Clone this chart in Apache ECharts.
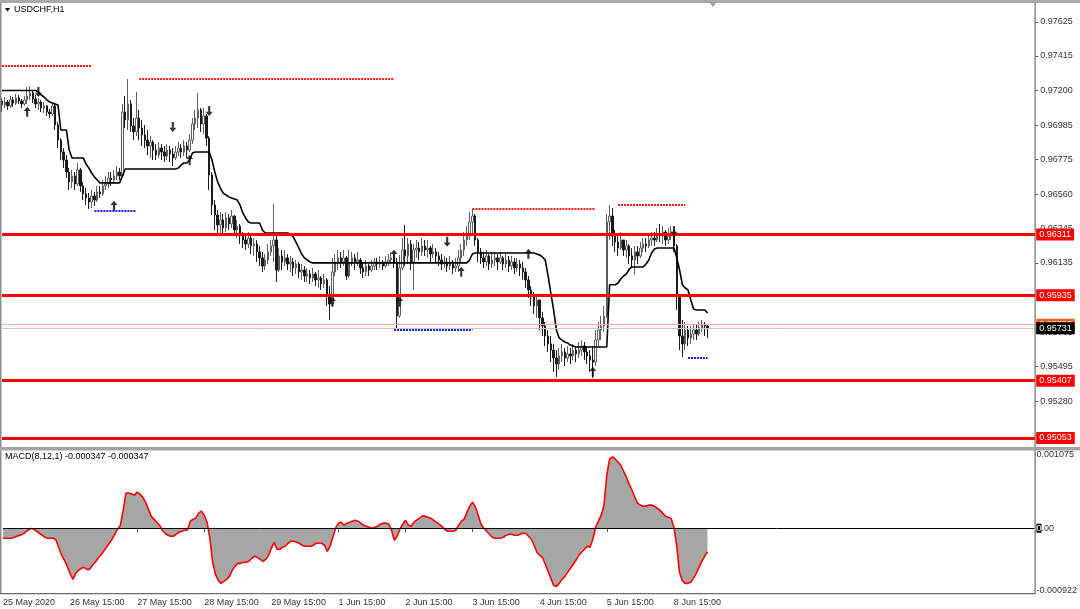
<!DOCTYPE html>
<html><head><meta charset="utf-8">
<script src="https://cdn.jsdelivr.net/npm/echarts@6/dist/echarts.min.js"></script>
<style>html,body{margin:0;padding:0;background:#fff}#c{width:1080px;height:609px}</style>
</head><body><div id="c"></div>
<script>
// ---- tick labels ----
const tickLabels = ['25 May 2020','26 May 15:00','27 May 15:00','28 May 15:00','29 May 15:00','1 Jun 15:00','2 Jun 15:00','3 Jun 15:00','4 Jun 15:00','5 Jun 15:00','8 Jun 15:00'];
const barsPerLabel = 24;
const slotCount = 370;
const priceTicks = [0.97625,0.97415,0.97200,0.96985,0.96775,0.96560,0.96345,0.96135,0.95705,0.95495,0.95280,0.95070];
const macdTicks = [0.001075, 0, -0.000922];

// ---- USDCHF H1 bars ----
const open = [
0.97136,0.97112,0.97130,0.97106,0.97143,0.97124,0.97155,0.97136,0.97118,0.97143,
0.97167,0.97186,0.97149,0.97118,0.97130,0.97093,0.97106,0.97068,0.97056,0.97106,
0.96988,0.96894,0.96821,0.96771,0.96697,0.96636,0.96673,0.96623,0.96710,0.96611,
0.96561,0.96537,0.96512,0.96549,0.96524,0.96574,0.96561,0.96611,0.96623,0.96660,
0.96648,0.96673,0.96697,0.96673,0.97068,0.97019,0.97118,0.96982,0.96945,0.97031,
0.96969,0.96926,0.96894,0.96858,0.96882,0.96833,0.96802,0.96845,0.96821,0.96796,
0.96833,0.96809,0.96784,0.96821,0.96845,0.96821,0.96858,0.96833,0.96894,0.96994,
0.97031,0.97081,0.96994,0.97044,0.96907,0.96679,0.96493,0.96431,0.96370,0.96401,
0.96351,0.96413,0.96376,0.96425,0.96339,0.96363,0.96302,0.96277,0.96252,0.96289,
0.96240,0.96252,0.96203,0.96166,0.96116,0.96153,0.96203,0.96240,0.96277,0.96091,
0.96178,0.96141,0.96166,0.96128,0.96141,0.96104,0.96128,0.96079,0.96091,0.96054,
0.96067,0.96042,0.96067,0.96030,0.96042,0.96005,0.96030,0.95931,0.95881,0.96079,
0.96141,0.96166,0.96141,0.96166,0.96054,0.96141,0.96166,0.96141,0.96153,0.96104,
0.96079,0.96116,0.96091,0.96116,0.96141,0.96128,0.96141,0.96116,0.96141,0.96153,
0.96166,0.96141,0.95807,0.96104,0.96215,0.96178,0.96252,0.96141,0.96215,0.96227,
0.96203,0.96240,0.96215,0.96227,0.96190,0.96203,0.96178,0.96153,0.96128,0.96141,
0.96116,0.96141,0.96104,0.96116,0.96166,0.96215,0.96277,0.96302,0.96388,0.96425,
0.96277,0.96203,0.96166,0.96141,0.96178,0.96128,0.96153,0.96166,0.96141,0.96166,
0.96128,0.96153,0.96116,0.96141,0.96104,0.96128,0.96104,0.96079,0.96030,0.95968,
0.95931,0.95869,0.95906,0.95795,0.95745,0.95683,0.95634,0.95596,0.95547,0.95510,
0.95560,0.95584,0.95547,0.95572,0.95560,0.95596,0.95572,0.95596,0.95621,0.95584,
0.95560,0.95535,0.95522,0.95658,0.95720,0.95745,0.95807,0.96388,0.96425,0.96302,
0.96264,0.96227,0.96277,0.96215,0.96240,0.96178,0.96153,0.96203,0.96178,0.96227,
0.96252,0.96240,0.96277,0.96289,0.96277,0.96314,0.96302,0.96326,0.96277,0.96302,
0.96326,0.96240,0.95931,0.95683,0.95634,0.95720,0.95671,0.95696,0.95720,0.95696,
0.95733,0.95757,0.95745];
const high = [
0.97155,0.97161,0.97143,0.97167,0.97161,0.97180,0.97174,0.97149,0.97167,0.97223,
0.97229,0.97204,0.97174,0.97155,0.97143,0.97130,0.97112,0.97087,0.97124,0.97118,
0.97007,0.96907,0.96845,0.96802,0.96722,0.96710,0.96697,0.96753,0.96722,0.96636,
0.96598,0.96567,0.96586,0.96574,0.96611,0.96611,0.96648,0.96673,0.96697,0.96697,
0.96710,0.96734,0.96722,0.97118,0.97167,0.97272,0.97143,0.97031,0.97192,0.97081,
0.97019,0.96988,0.96957,0.96919,0.96894,0.96870,0.96882,0.96870,0.96858,0.96870,
0.96858,0.96845,0.96858,0.96882,0.96870,0.96894,0.96882,0.96932,0.97031,0.97081,
0.97186,0.97093,0.97093,0.97056,0.96919,0.96697,0.96524,0.96462,0.96450,0.96438,
0.96450,0.96438,0.96462,0.96431,0.96401,0.96376,0.96326,0.96302,0.96326,0.96302,
0.96289,0.96277,0.96240,0.96203,0.96190,0.96252,0.96277,0.96499,0.96302,0.96227,
0.96215,0.96215,0.96190,0.96178,0.96166,0.96153,0.96141,0.96128,0.96116,0.96104,
0.96091,0.96104,0.96079,0.96091,0.96054,0.96067,0.96042,0.95992,0.96166,0.96190,
0.96215,0.96203,0.96215,0.96178,0.96215,0.96203,0.96190,0.96203,0.96166,0.96141,
0.96153,0.96128,0.96153,0.96166,0.96166,0.96178,0.96153,0.96178,0.96190,0.96203,
0.96190,0.96166,0.96184,0.96289,0.96370,0.96289,0.96277,0.96252,0.96277,0.96264,
0.96289,0.96277,0.96277,0.96240,0.96252,0.96227,0.96203,0.96190,0.96178,0.96166,
0.96178,0.96153,0.96166,0.96215,0.96252,0.96326,0.96363,0.96450,0.96469,0.96438,
0.96289,0.96227,0.96203,0.96215,0.96190,0.96203,0.96203,0.96190,0.96203,0.96178,
0.96190,0.96178,0.96178,0.96166,0.96166,0.96153,0.96141,0.96104,0.96054,0.95992,
0.95955,0.95943,0.95906,0.95832,0.95770,0.95720,0.95683,0.95634,0.95596,0.95609,
0.95634,0.95609,0.95621,0.95609,0.95634,0.95621,0.95646,0.95658,0.95646,0.95621,
0.95596,0.95621,0.95720,0.95770,0.95807,0.95869,0.96438,0.96493,0.96475,0.96339,
0.96302,0.96326,0.96277,0.96277,0.96252,0.96227,0.96240,0.96240,0.96264,0.96289,
0.96289,0.96314,0.96326,0.96326,0.96351,0.96376,0.96363,0.96339,0.96351,0.96363,
0.96339,0.96252,0.95943,0.95782,0.95770,0.95745,0.95745,0.95757,0.95757,0.95770,
0.95782,0.95770,0.95757];
const low = [
0.97068,0.97093,0.97081,0.97093,0.97099,0.97112,0.97118,0.97093,0.97106,0.97118,
0.97143,0.97124,0.97093,0.97081,0.97068,0.97062,0.97044,0.97031,0.97044,0.96957,
0.96845,0.96771,0.96722,0.96660,0.96586,0.96598,0.96586,0.96611,0.96574,0.96524,
0.96493,0.96469,0.96475,0.96487,0.96512,0.96537,0.96549,0.96586,0.96598,0.96611,
0.96636,0.96648,0.96648,0.96660,0.96969,0.96957,0.96945,0.96894,0.96919,0.96894,
0.96858,0.96845,0.96802,0.96784,0.96771,0.96771,0.96784,0.96771,0.96759,0.96771,
0.96759,0.96734,0.96771,0.96796,0.96784,0.96796,0.96784,0.96821,0.96870,0.96957,
0.96969,0.96945,0.96932,0.96858,0.96586,0.96431,0.96339,0.96302,0.96314,0.96302,
0.96326,0.96339,0.96351,0.96302,0.96289,0.96252,0.96227,0.96215,0.96227,0.96190,
0.96178,0.96141,0.96116,0.96079,0.96091,0.96128,0.96178,0.96141,0.96017,0.96079,
0.96091,0.96116,0.96091,0.96079,0.96054,0.96067,0.96042,0.96030,0.96017,0.96017,
0.96005,0.96017,0.95992,0.95980,0.95968,0.95980,0.95869,0.95782,0.95869,0.96054,
0.96091,0.96104,0.96116,0.96030,0.96042,0.96116,0.96091,0.96116,0.96067,0.96042,
0.96054,0.96054,0.96079,0.96091,0.96091,0.96104,0.96091,0.96104,0.96116,0.96128,
0.96104,0.95733,0.95795,0.96091,0.96116,0.96128,0.96091,0.95968,0.96166,0.96153,
0.96178,0.96178,0.96166,0.96141,0.96166,0.96141,0.96116,0.96091,0.96104,0.96079,
0.96091,0.96067,0.96079,0.96079,0.96141,0.96178,0.96240,0.96277,0.96302,0.96240,
0.96141,0.96128,0.96104,0.96116,0.96091,0.96104,0.96116,0.96091,0.96128,0.96091,
0.96104,0.96079,0.96091,0.96067,0.96079,0.96054,0.96030,0.95980,0.95918,0.95869,
0.95819,0.95795,0.95720,0.95683,0.95621,0.95584,0.95522,0.95461,0.95430,0.95473,
0.95522,0.95498,0.95522,0.95510,0.95535,0.95522,0.95547,0.95560,0.95535,0.95510,
0.95461,0.95424,0.95498,0.95621,0.95658,0.95708,0.95795,0.96277,0.96240,0.96203,
0.96178,0.96215,0.96178,0.96166,0.96128,0.96104,0.96060,0.96128,0.96166,0.96203,
0.96203,0.96227,0.96240,0.96240,0.96264,0.96264,0.96252,0.96240,0.96252,0.96277,
0.96203,0.95844,0.95596,0.95553,0.95596,0.95621,0.95634,0.95658,0.95658,0.95683,
0.95708,0.95683,0.95671];
const close = [
0.97112,0.97130,0.97106,0.97143,0.97124,0.97155,0.97136,0.97118,0.97143,0.97167,
0.97186,0.97149,0.97118,0.97130,0.97093,0.97106,0.97068,0.97056,0.97106,0.96988,
0.96894,0.96821,0.96771,0.96697,0.96636,0.96673,0.96623,0.96710,0.96611,0.96561,
0.96537,0.96512,0.96549,0.96524,0.96574,0.96561,0.96611,0.96623,0.96660,0.96648,
0.96673,0.96697,0.96673,0.97068,0.97019,0.97118,0.96982,0.96945,0.97031,0.96969,
0.96926,0.96894,0.96858,0.96882,0.96833,0.96802,0.96845,0.96821,0.96796,0.96833,
0.96809,0.96784,0.96821,0.96845,0.96821,0.96858,0.96833,0.96894,0.96994,0.97031,
0.97081,0.96994,0.97044,0.96907,0.96679,0.96493,0.96431,0.96370,0.96401,0.96351,
0.96413,0.96376,0.96425,0.96339,0.96363,0.96302,0.96277,0.96252,0.96289,0.96240,
0.96252,0.96203,0.96166,0.96116,0.96153,0.96203,0.96240,0.96277,0.96091,0.96178,
0.96141,0.96166,0.96128,0.96141,0.96104,0.96128,0.96079,0.96091,0.96054,0.96067,
0.96042,0.96067,0.96030,0.96042,0.96005,0.96030,0.95931,0.95881,0.96079,0.96141,
0.96166,0.96141,0.96166,0.96054,0.96141,0.96166,0.96141,0.96153,0.96104,0.96079,
0.96116,0.96091,0.96116,0.96141,0.96128,0.96141,0.96116,0.96141,0.96153,0.96166,
0.96141,0.95807,0.96104,0.96215,0.96178,0.96252,0.96141,0.96215,0.96227,0.96203,
0.96240,0.96215,0.96227,0.96190,0.96203,0.96178,0.96153,0.96128,0.96141,0.96116,
0.96141,0.96104,0.96116,0.96166,0.96215,0.96277,0.96302,0.96388,0.96425,0.96277,
0.96203,0.96166,0.96141,0.96178,0.96128,0.96153,0.96166,0.96141,0.96166,0.96128,
0.96153,0.96116,0.96141,0.96104,0.96128,0.96104,0.96079,0.96030,0.95968,0.95931,
0.95869,0.95906,0.95795,0.95745,0.95683,0.95634,0.95596,0.95547,0.95510,0.95560,
0.95584,0.95547,0.95572,0.95560,0.95596,0.95572,0.95596,0.95621,0.95584,0.95560,
0.95535,0.95522,0.95658,0.95720,0.95745,0.95807,0.96388,0.96425,0.96302,0.96264,
0.96227,0.96277,0.96215,0.96240,0.96178,0.96153,0.96203,0.96178,0.96227,0.96252,
0.96240,0.96277,0.96289,0.96277,0.96314,0.96302,0.96326,0.96277,0.96302,0.96326,
0.96240,0.95931,0.95683,0.95634,0.95720,0.95671,0.95696,0.95720,0.95696,0.95733,
0.95757,0.95745,0.95731];

// ---- trailing stop line (black) ----
const trail = [
0.97201,0.97201,0.97201,0.97201,0.97201,0.97201,0.97201,0.97201,0.97201,0.97201,
0.97201,0.97201,0.97201,0.97192,0.97174,0.97161,0.97143,0.97130,0.97124,0.97118,
0.97112,0.96957,0.96957,0.96957,0.96833,0.96784,0.96784,0.96784,0.96784,0.96784,
0.96747,0.96722,0.96691,0.96667,0.96648,0.96630,0.96630,0.96630,0.96630,0.96630,
0.96630,0.96630,0.96630,0.96673,0.96716,0.96716,0.96716,0.96716,0.96716,0.96716,
0.96716,0.96716,0.96716,0.96716,0.96716,0.96716,0.96716,0.96716,0.96716,0.96716,
0.96716,0.96716,0.96716,0.96722,0.96741,0.96753,0.96753,0.96771,0.96815,0.96821,
0.96821,0.96821,0.96821,0.96821,0.96821,0.96771,0.96697,0.96636,0.96598,0.96567,
0.96555,0.96543,0.96537,0.96530,0.96524,0.96493,0.96444,0.96413,0.96388,0.96382,
0.96382,0.96382,0.96382,0.96339,0.96320,0.96320,0.96320,0.96320,0.96320,0.96320,
0.96320,0.96320,0.96320,0.96314,0.96296,0.96264,0.96227,0.96190,0.96166,0.96153,
0.96141,0.96135,0.96135,0.96135,0.96135,0.96135,0.96135,0.96135,0.96135,0.96135,
0.96135,0.96135,0.96135,0.96135,0.96135,0.96135,0.96135,0.96135,0.96135,0.96135,
0.96135,0.96135,0.96135,0.96135,0.96135,0.96135,0.96135,0.96135,0.96135,0.96135,
0.96135,0.96135,0.96135,0.96135,0.96135,0.96135,0.96135,0.96135,0.96135,0.96135,
0.96135,0.96135,0.96135,0.96135,0.96135,0.96135,0.96135,0.96135,0.96135,0.96135,
0.96135,0.96135,0.96135,0.96135,0.96135,0.96135,0.96135,0.96153,0.96190,0.96196,
0.96196,0.96196,0.96196,0.96196,0.96196,0.96196,0.96196,0.96196,0.96196,0.96196,
0.96196,0.96196,0.96196,0.96196,0.96196,0.96196,0.96196,0.96196,0.96196,0.96196,
0.96196,0.96190,0.96184,0.96172,0.96153,0.96060,0.95949,0.95844,0.95720,0.95671,
0.95658,0.95646,0.95640,0.95627,0.95621,0.95615,0.95615,0.95615,0.95615,0.95615,
0.95615,0.95615,0.95615,0.95615,0.95615,0.95615,0.95615,0.96000,0.96000,0.96000,
0.96011,0.96036,0.96054,0.96067,0.96097,0.96110,0.96110,0.96110,0.96110,0.96110,
0.96128,0.96153,0.96196,0.96221,0.96227,0.96227,0.96227,0.96227,0.96227,0.96227,
0.96227,0.96166,0.96091,0.96000,0.95980,0.95968,0.95906,0.95850,0.95844,0.95844,
0.95844,0.95844,0.95825];

// ---- MACD(8,12,1) ----
const macd = [
-0.000147,-0.000147,-0.000147,-0.000147,-0.000133,-0.000118,-0.000103,-0.000088,-0.000059,-0.000029,
-0.000004,-0.000015,-0.000044,-0.000074,-0.000103,-0.000133,-0.000147,-0.000147,-0.000147,-0.000177,
-0.000295,-0.000398,-0.000471,-0.000560,-0.000663,-0.000751,-0.000663,-0.000619,-0.000589,-0.000574,
-0.000604,-0.000604,-0.000545,-0.000501,-0.000442,-0.000398,-0.000339,-0.000280,-0.000221,-0.000162,
-0.000088,-0.000015,0.000044,0.000265,0.000516,0.000516,0.000501,0.000486,0.000530,0.000501,
0.000457,0.000383,0.000280,0.000177,0.000133,0.000088,0.000044,-0.000029,-0.000074,-0.000103,
-0.000118,-0.000118,-0.000088,-0.000059,-0.000044,-0.000029,-0.000029,0.000103,0.000133,0.000147,
0.000221,0.000250,0.000191,0.000088,-0.000147,-0.000501,-0.000678,-0.000766,-0.000810,-0.000781,
-0.000751,-0.000707,-0.000619,-0.000560,-0.000516,-0.000516,-0.000501,-0.000501,-0.000486,-0.000442,
-0.000412,-0.000427,-0.000457,-0.000486,-0.000457,-0.000398,-0.000295,-0.000206,-0.000309,-0.000309,
-0.000280,-0.000265,-0.000221,-0.000191,-0.000191,-0.000206,-0.000221,-0.000250,-0.000265,-0.000265,
-0.000265,-0.000250,-0.000221,-0.000221,-0.000221,-0.000250,-0.000339,-0.000265,-0.000133,0,
0.000074,0.000088,0.000044,0.000074,0.000088,0.000103,0.000118,0.000103,0.000074,0.000044,
0.000029,0.000015,0,0.000015,0.000029,0.000059,0.000074,0.000074,0.000059,-0.000029,
-0.000177,-0.000118,-0.000015,0.000059,0.000118,0.000044,0.000029,0.000088,0.000118,0.000147,
0.000177,0.000177,0.000162,0.000147,0.000118,0.000088,0.000059,0.000029,-0.000015,-0.000044,
-0.000044,-0.000044,-0.000029,0.000044,0.000103,0.000133,0.000236,0.000324,0.000383,0.000309,
0.000191,0.000059,0,-0.000044,-0.000088,-0.000133,-0.000147,-0.000147,-0.000147,-0.000133,
-0.000103,-0.000088,-0.000088,-0.000103,-0.000103,-0.000088,-0.000074,-0.000074,-0.000118,-0.000162,
-0.000250,-0.000354,-0.000398,-0.000427,-0.000530,-0.000633,-0.000737,-0.000840,-0.000855,-0.000810,
-0.000751,-0.000707,-0.000648,-0.000589,-0.000530,-0.000471,-0.000398,-0.000354,-0.000309,-0.000265,
-0.000280,-0.000162,0.000015,0.000103,0.000191,0.000339,0.000781,0.001016,0.001046,0.001016,
0.000972,0.000928,0.000840,0.000751,0.000648,0.000560,0.000457,0.000368,0.000339,0.000324,
0.000324,0.000339,0.000339,0.000324,0.000295,0.000265,0.000221,0.000177,0.000162,0.000147,
0.000015,-0.000250,-0.000648,-0.000766,-0.000810,-0.000810,-0.000795,-0.000737,-0.000663,-0.000574,
-0.000486,-0.000412,-0.000347];

// ---- levels ----
const levels = [0.96311, 0.95935, 0.95407, 0.95053];
const askPrice = 0.95753, bidPrice = 0.95731;
// [price, fromBar, toBar]
const resistance = [[0.97353,0,32],[0.97272,49,140],[0.96472,168,212],[0.96496,220,244]];
const support = [[0.96456,33,48],[0.95722,140,168],[0.95547,245,252]];
// [bar, price]
const arrowsUp = [[9,0.97069],[40,0.96488],[67,0.96772],[118,0.95895],[140,0.96185],[142,0.95895],[164,0.96080],[188,0.96191],[211,0.95462]];
const arrowsDown = [[13,0.97192],[61,0.96976],[74,0.97075],[159,0.96266],[240,0.96333]];
const macdTitle = 'MACD(8,12,1) -0.000347 -0.000347';
const chartTitle = 'USDCHF,H1';

// ---- build ----
const FONT = '"Liberation Sans", Arial, sans-serif';
const slots = []; for (let i = 0; i < slotCount; i++) slots.push(String(i));
const candle = open.map((o, i) => [o, close[i], low[i], high[i]]);
const isLabelIdx = (i) => i % barsPerLabel === 0 && i / barsPerLabel < tickLabels.length;
const GL = 2, GW = 1033.2;

const boxLabel = (txt, bg) => ({show: true, position: 'end', distance: 1, formatter: txt,
  backgroundColor: bg, color: '#fff', fontSize: 9, fontFamily: FONT, padding: [2, 3, 1, 3], lineHeight: 9});
// full-width horizontal lines (attached to the trail line series)
const hLines = [];
hLines.push({yAxis: askPrice, lineStyle: {color: '#f6ad98', width: 1, type: 'solid'}, label: boxLabel(askPrice.toFixed(5), '#ff5a1e')});
hLines.push({yAxis: bidPrice, lineStyle: {color: '#c8c8c8', width: 1, type: 'solid'}, label: boxLabel(bidPrice.toFixed(5), '#000000')});
levels.forEach(v => hLines.push({yAxis: v, lineStyle: {color: '#ff0000', width: 3, type: 'solid'}, label: boxLabel(v.toFixed(5), '#ff0000')}));
// partial dotted lines (drawn on top)
const segs = [];
resistance.forEach(r => segs.push([{coord: [r[1], r[0]], lineStyle: {color: '#ff1a1a', width: 2, type: [2, 1]}, label: {show: false}}, {coord: [r[2], r[0]]}]));
support.forEach(r => segs.push([{coord: [r[1], r[0]], lineStyle: {color: '#1a1aff', width: 2, type: [2, 1]}, label: {show: false}}, {coord: [r[2], r[0]]}]));

const upPath = 'path://M5,0 L10,5 L6.5,5 L6.5,12 L3.5,12 L3.5,5 L0,5 Z';
const downPath = 'path://M5,12 L10,7 L6.5,7 L6.5,0 L3.5,0 L3.5,7 L0,7 Z';

const chart = echarts.init(document.getElementById('c'), null, {renderer: 'canvas'});
chart.setOption({
  animation: false,
  backgroundColor: '#ffffff',
  textStyle: {fontFamily: FONT},
  grid: [
    {left: GL, width: GW, top: 4, height: 444, show: false},
    {left: GL, width: GW, top: 455, height: 136, show: false}
  ],
  xAxis: [
    {type: 'category', gridIndex: 0, data: slots, boundaryGap: false, show: false},
    {type: 'category', gridIndex: 1, data: slots, boundaryGap: false, offset: 3,
     axisLine: {show: false},
     axisTick: {show: true, interval: (i) => isLabelIdx(i), length: 4, lineStyle: {color: '#555'}},
     axisLabel: {interval: (i) => isLabelIdx(i), formatter: (v, i) => tickLabels[Math.round(i / barsPerLabel)] || '',
       align: 'left', margin: 4, fontSize: 9, color: '#333', fontFamily: FONT},
     splitLine: {show: false}}
  ],
  yAxis: [
    {type: 'value', gridIndex: 0, position: 'right', min: 0.949905, max: 0.97736,
     axisLine: {show: false}, splitLine: {show: false},
     axisTick: {show: true, customValues: priceTicks, length: 3, lineStyle: {color: '#555'}},
     axisLabel: {customValues: priceTicks, formatter: (v) => v.toFixed(5), fontSize: 9, color: '#333', margin: 5, fontFamily: FONT}},
    {type: 'value', gridIndex: 1, position: 'right', min: -0.000922, max: 0.001075,
     axisLine: {show: false}, splitLine: {show: false},
     axisTick: {show: false},
     axisLabel: {customValues: macdTicks, formatter: (v) => v === 0 ? '{b|0}.00' : v.toFixed(6), fontSize: 9, color: '#333', margin: 2, fontFamily: FONT,
       rich: {b: {backgroundColor: '#000', color: '#fff', fontSize: 9, fontFamily: FONT}}}}
  ],
  graphic: [
    {type: 'rect', shape: {x: 0, y: 0, width: 1080, height: 3}, style: {fill: '#a9a9a9'}, z: 100},
    {type: 'polygon', shape: {points: [[709, 2], [717, 2], [713, 7]]}, style: {fill: '#a0a0a0'}, z: 101},
    {type: 'rect', shape: {x: 0, y: 3, width: 1.5, height: 591}, style: {fill: '#8c8c8c'}, z: 100},
    {type: 'rect', shape: {x: 1034.5, y: 3, width: 1.2, height: 591}, style: {fill: '#6e6e6e'}, z: 100},
    {type: 'rect', shape: {x: 0, y: 447, width: 1080, height: 3.5}, style: {fill: '#a3a3a3'}, z: 100},
    {type: 'rect', shape: {x: 0, y: 593, width: 1035.5, height: 1.2}, style: {fill: '#6e6e6e'}, z: 100},
    {type: 'polygon', shape: {points: [[5, 8], [10, 8], [7.5, 11.5]]}, style: {fill: '#000'}, z: 100},
    {type: 'text', style: {text: chartTitle, x: 14, y: 10, verticalAlign: 'middle', font: '9px "Liberation Sans", Arial, sans-serif', fill: '#000'}, z: 100},
    {type: 'text', style: {text: macdTitle, x: 5, y: 457, verticalAlign: 'middle', font: '9px "Liberation Sans", Arial, sans-serif', fill: '#000'}, z: 100}
  ],
  series: [
    {type: 'candlestick', name: 'USDCHF', xAxisIndex: 0, yAxisIndex: 0, data: candle, barMaxWidth: 2, barWidth: 2,
     itemStyle: {color: '#ffffff', color0: '#1a1a1a', borderColor: '#5e5e5e', borderColor0: '#1a1a1a', borderWidth: 1}, z: 3},
    {type: 'line', name: 'trail', xAxisIndex: 0, yAxisIndex: 0, data: trail, symbol: 'none',
     lineStyle: {color: '#000', width: 1.6}, z: 4,
     markLine: {silent: true, symbol: 'none', animation: false, precision: 6, data: hLines}},
    {type: 'scatter', xAxisIndex: 0, yAxisIndex: 0, data: arrowsUp, symbol: upPath, symbolSize: [7, 10],
     itemStyle: {color: '#000'}, z: 6,
     markLine: {silent: true, symbol: 'none', animation: false, precision: 6, data: segs}},
    {type: 'scatter', xAxisIndex: 0, yAxisIndex: 0, data: arrowsDown, symbol: downPath, symbolSize: [7, 10],
     itemStyle: {color: '#000'}, z: 6},
    {type: 'line', name: 'signal', xAxisIndex: 1, yAxisIndex: 1, data: macd, symbol: 'none',
     lineStyle: {color: '#ff0000', width: 1.6}, areaStyle: {color: '#a6a6a6', opacity: 1, origin: 0}, z: 4,
     markLine: {silent: true, symbol: 'none', animation: false, precision: 6, label: {show: false},
       lineStyle: {color: '#000', width: 1, type: 'solid'}, data: [{yAxis: 0}]}}
  ]
});
</script>
</body></html>
